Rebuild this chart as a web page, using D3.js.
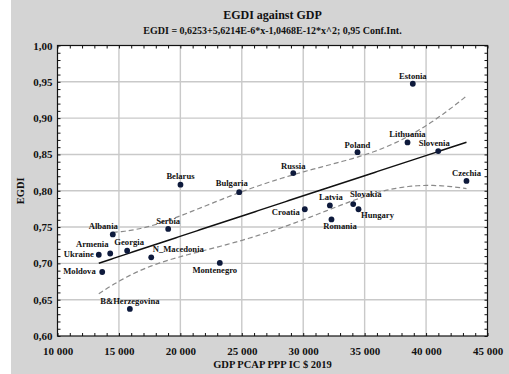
<!DOCTYPE html>
<html>
<head>
<meta charset="utf-8">
<script src="https://cdn.jsdelivr.net/npm/d3@7"></script>
<style>
  html, body { margin: 0; padding: 0; background: #ffffff; }
  svg { display: block; }
  text { font-family: "Liberation Serif", "Times New Roman", serif; font-weight: bold; fill: #111; }
</style>
</head>
<body>
<svg id="chart" width="509" height="374"></svg>
<script>
// Countries, GDP per capita (PPP, current international $, 2019) and EGDI
const countries = ["Estonia", "Lithuania", "Slovenia", "Poland", "Russia", "Czechia",
  "Croatia", "Latvia", "Slovakia", "Hungary", "Romania", "Belarus", "Bulgaria",
  "Serbia", "Albania", "Georgia", "Armenia", "Ukraine", "N_Macedonia",
  "Montenegro", "Moldova", "B&Herzegovina"];
const gdp = [38920, 38490, 40990, 34420, 29190, 43290,
  30130, 32170, 34070, 34500, 32300, 20010, 24790,
  19010, 14500, 15670, 14290, 13360, 17630,
  23210, 13640, 15890];
const egdi = [0.9473, 0.8665, 0.8546, 0.8531, 0.8244, 0.8135,
  0.7745, 0.7798, 0.7817, 0.7745, 0.7605, 0.8084, 0.7980,
  0.7474, 0.7399, 0.7174, 0.7136, 0.7119, 0.7083,
  0.7006, 0.6881, 0.6373];

// Quadratic fit shown in the subtitle
const coef = [0.6253, 5.6214e-6, -1.0468e-12];
const tCrit = 2.093;          // Student t, 0.975 quantile, 19 df
const upperBandFrom = 14500;  // upper limit curve drawn from this GDP value

const xTicks = [10000, 15000, 20000, 25000, 30000, 35000, 40000, 45000];
const yTicks = [0.60, 0.65, 0.70, 0.75, 0.80, 0.85, 0.90, 0.95, 1.00];

const titleText = "EGDI against GDP";
const subtitleText = "EGDI = 0,6253+5,6214E-6*x-1,0468E-12*x^2; 0,95 Conf.Int.";
const xTitle = "GDP PCAP PPP IC $ 2019";
const yTitle = "EGDI";

// Label placement around each point: [dx, dy, anchor]
const labelPlace = {
  "Estonia": [0, -5, "middle"], "Lithuania": [0, -5, "middle"], "Slovenia": [-4, -5.5, "middle"],
  "Poland": [0, -4.5, "middle"], "Russia": [0, -4.5, "middle"], "Czechia": [0, -4.5, "middle"],
  "Croatia": [-5, 5.5, "end"], "Latvia": [1, -5.5, "middle"], "Slovakia": [12.5, -7, "middle"],
  "Hungary": [2.5, 9, "start"], "Romania": [8.5, 9.5, "middle"], "Belarus": [0, -5.5, "middle"],
  "Bulgaria": [-7.5, -6.5, "middle"], "Serbia": [0, -5, "middle"], "Albania": [-9.5, -5, "middle"],
  "Georgia": [2, -5.5, "middle"], "Armenia": [-18, -6, "middle"], "Ukraine": [-5, 2.5, "end"],
  "N_Macedonia": [1.5, -5, "start"], "Montenegro": [-5, 10.5, "middle"], "Moldova": [-6.5, 1.5, "end"],
  "B&Herzegovina": [0, -4.5, "middle"]
};

const W = 509, H = 374;
const plot = { left: 57.5, right: 487.5, top: 45.5, bottom: 336 };

const svg = d3.select("#chart");

// frame background
svg.append("rect").attr("x", 11).attr("y", 0).attr("width", W - 11).attr("height", H).attr("fill", "#d4d4d4");
svg.append("rect").attr("x", plot.left).attr("y", plot.top)
  .attr("width", plot.right - plot.left).attr("height", plot.bottom - plot.top).attr("fill", "#ffffff");

const x = d3.scaleLinear().domain([10000, 45000]).range([plot.left, plot.right]);
const y = d3.scaleLinear().domain([0.60, 1.00]).range([plot.bottom, plot.top]);

const loc = d3.formatLocale({ decimal: ",", thousands: " ", grouping: [3], currency: ["", ""] });
const fx = loc.format(",d");
const fy = loc.format(".2f");

// grid
const grid = svg.append("g").attr("stroke", "#c9c9c9").attr("stroke-width", 1.4);
grid.selectAll(".gx").data(xTicks.slice(1, -1)).join("line")
  .attr("x1", d => x(d)).attr("x2", d => x(d)).attr("y1", plot.top).attr("y2", plot.bottom);
grid.selectAll(".gy").data(yTicks.slice(1, -1)).join("line")
  .attr("y1", d => y(d)).attr("y2", d => y(d)).attr("x1", plot.left).attr("x2", plot.right);

// axes with inward major and minor ticks on all four sides
const xMinor = d3.range(10000, 45001, 1000);
const yMinor = d3.range(0, 41).map(i => +(0.60 + i * 0.01).toFixed(2));

function tickAxis(axisGen, transform) {
  const g = svg.append("g").attr("transform", transform).call(axisGen);
  g.select(".domain").remove();
  g.selectAll("line").attr("stroke", "#111").attr("stroke-width", 1);
  return g;
}
tickAxis(d3.axisBottom(x).tickValues(xMinor).tickSize(-3).tickFormat(""), `translate(0,${plot.bottom})`);
tickAxis(d3.axisTop(x).tickValues(xMinor).tickSize(-3).tickFormat(""), `translate(0,${plot.top})`);
tickAxis(d3.axisLeft(y).tickValues(yMinor).tickSize(-3).tickFormat(""), `translate(${plot.left},0)`);
tickAxis(d3.axisRight(y).tickValues(yMinor).tickSize(-3).tickFormat(""), `translate(${plot.right},0)`);

// labelled axes
const xAxis = svg.append("g").attr("transform", `translate(0,${plot.bottom})`)
  .call(d3.axisBottom(x).tickValues(xTicks).tickSize(0).tickPadding(11).tickFormat(fx));
xAxis.select(".domain").remove();
xAxis.selectAll("text").attr("font-size", 11).attr("font-family", "Liberation Serif").attr("font-weight", "bold").attr("fill", "#111");

const yAxis = svg.append("g").attr("transform", `translate(${plot.left},0)`)
  .call(d3.axisLeft(y).tickValues(yTicks).tickSize(0).tickPadding(5).tickFormat(fy));
yAxis.select(".domain").remove();
yAxis.selectAll("text").attr("font-size", 11).attr("font-family", "Liberation Serif").attr("font-weight", "bold").attr("fill", "#111");

// plot border
svg.append("rect").attr("x", plot.left).attr("y", plot.top)
  .attr("width", plot.right - plot.left).attr("height", plot.bottom - plot.top)
  .attr("fill", "none").attr("stroke", "#111").attr("stroke-width", 1.2);

// fitted curve and confidence limits
const fit = v => coef[0] + coef[1] * v + coef[2] * v * v;
const n = gdp.length;
const k = v => v / 1000;
// X'X for the basis [1, x, x^2] with x in thousands
const XtX = [[0, 0, 0], [0, 0, 0], [0, 0, 0]];
gdp.forEach(g => {
  const r = [1, k(g), k(g) * k(g)];
  for (let i = 0; i < 3; i++) for (let j = 0; j < 3; j++) XtX[i][j] += r[i] * r[j];
});
function inv3(m) {
  const [a, b, c] = m[0], [d, e, f] = m[1], [g, h, i] = m[2];
  const A = e * i - f * h, B = -(d * i - f * g), C = d * h - e * g;
  const det = a * A + b * B + c * C;
  return [
    [A / det, -(b * i - c * h) / det, (b * f - c * e) / det],
    [B / det, (a * i - c * g) / det, -(a * f - c * d) / det],
    [C / det, -(a * h - b * g) / det, (a * e - b * d) / det]
  ];
}
const C = inv3(XtX);
const sse = d3.sum(gdp, (g, i) => (egdi[i] - fit(g)) ** 2);
const s = Math.sqrt(sse / (n - 3));
const halfWidth = v => {
  const r = [1, k(v), k(v) * k(v)];
  let q = 0;
  for (let i = 0; i < 3; i++) for (let j = 0; j < 3; j++) q += r[i] * C[i][j] * r[j];
  return tCrit * s * Math.sqrt(q);
};

const [gMin, gMax] = d3.extent(gdp);
const curveLine = d3.line().x(d => x(d[0])).y(d => y(d[1]));
const samples = (from, to) => d3.range(0, 121).map(i => from + (to - from) * i / 120);

svg.append("path").datum(samples(gMin, gMax).map(v => [v, fit(v)]))
  .attr("d", curveLine).attr("fill", "none").attr("stroke", "#111").attr("stroke-width", 1.5);
svg.append("path").datum(samples(upperBandFrom, gMax).map(v => [v, fit(v) + halfWidth(v)]))
  .attr("d", curveLine).attr("fill", "none").attr("stroke", "#8a8a8a").attr("stroke-width", 1.2)
  .attr("stroke-dasharray", "5,3");
svg.append("path").datum(samples(gMin, gMax).map(v => [v, fit(v) - halfWidth(v)]))
  .attr("d", curveLine).attr("fill", "none").attr("stroke", "#8a8a8a").attr("stroke-width", 1.2)
  .attr("stroke-dasharray", "5,3");

// points and labels
const pts = countries.map((c, i) => ({ c, g: gdp[i], e: egdi[i] }));
svg.append("g").selectAll("circle").data(pts).join("circle")
  .attr("cx", d => x(d.g)).attr("cy", d => y(d.e)).attr("r", 2.9).attr("fill", "#0e1a3c");
svg.append("g").selectAll("text").data(pts).join("text")
  .attr("x", d => x(d.g) + labelPlace[d.c][0])
  .attr("y", d => y(d.e) + labelPlace[d.c][1])
  .attr("text-anchor", d => labelPlace[d.c][2])
  .attr("font-size", 8.6)
  .text(d => d.c);

// titles
const cx = (plot.left + plot.right) / 2;
svg.append("text").attr("x", cx).attr("y", 19).attr("text-anchor", "middle").attr("font-size", 12).text(titleText);
svg.append("text").attr("x", cx).attr("y", 34).attr("text-anchor", "middle").attr("font-size", 10).text(subtitleText);
svg.append("text").attr("x", cx).attr("y", 368).attr("text-anchor", "middle").attr("font-size", 10.5).text(xTitle);
svg.append("text").attr("transform", `translate(24,${(plot.top + plot.bottom) / 2}) rotate(-90)`)
  .attr("text-anchor", "middle").attr("font-size", 10.5).text(yTitle);
</script>
</body>
</html>
